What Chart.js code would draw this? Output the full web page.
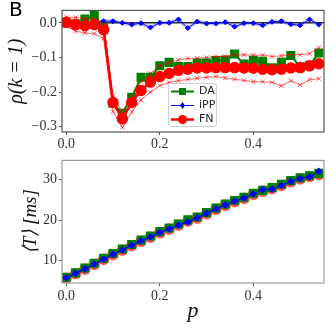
<!DOCTYPE html>
<html>
<head>
<meta charset="utf-8">
<script src="https://cdn.jsdelivr.net/npm/chart.js@4"></script>
<style>
body { margin: 0; background: #fff; }
#wrap { position: relative; width: 332px; height: 332px; }
#topChart { position: absolute; left: 0; top: 0; }
#botChart { position: absolute; left: 0; top: 150px; }
#panel { position: absolute; left: 9px; top: -3px; font: 20px "DejaVu Sans"; color: #000; }
#legend { position: absolute; left: 168px; top: 83px; width: 47px; height: 42px;
  border: 1px solid #d0d0d0; border-radius: 3px; background: rgba(255,255,255,0.85);
  font: 11px "DejaVu Sans"; color: #222; }
#legend div { height: 14px; line-height: 14px; display: flex; align-items: center; }
#legend svg { margin: 0 5px 0 2px; }
</style>
</head>
<body>
<div id="wrap">
  <canvas id="topChart" width="332" height="150"></canvas>
  <canvas id="botChart" width="332" height="182"></canvas>
  <div id="panel">B</div>
  <div id="legend"></div>
</div>
<script>
// p values
const pVals = [0, 0.02, 0.04, 0.06, 0.08, 0.10, 0.12, 0.14, 0.16, 0.18, 0.20, 0.22, 0.24, 0.26,
  0.28, 0.30, 0.32, 0.34, 0.36, 0.38, 0.40, 0.42, 0.44, 0.46, 0.48, 0.50, 0.52, 0.54];

// top: rho(k=1)
const rhoDA = [0.0, -0.003, 0.011, 0.021, -0.012, -0.232, -0.261, -0.215, -0.157, -0.157, -0.124, -0.114, -0.126, -0.126,
  -0.116, -0.116, -0.109, -0.107, -0.090, -0.119, -0.108, -0.111, -0.130, -0.114, -0.094, -0.127, -0.123, -0.087];
const rhoIPP = [0.0, 0.0, 0.0, 0.001, 0.005, 0.005, 0.0, -0.005, -0.001, -0.013, 0.0, 0.0, 0.010, -0.015,
  0.004, -0.002, -0.002, 0.002, -0.011, -0.001, -0.001, -0.007, 0.003, 0.005, -0.004, -0.007, 0.010, -0.005];
const rhoFN = [0.002, -0.005, -0.008, -0.005, -0.020, -0.230, -0.277, -0.230, -0.195, -0.171, -0.155, -0.146, -0.137, -0.134,
  -0.130, -0.130, -0.129, -0.129, -0.129, -0.130, -0.131, -0.134, -0.135, -0.134, -0.130, -0.129, -0.124, -0.118];
const rhoFNhi = [0.016, 0.016, 0.011, 0.011, -0.003, -0.210, -0.258, -0.212, -0.170, -0.146, -0.124, -0.114, -0.107, -0.103,
  -0.102, -0.100, -0.097, -0.097, -0.093, -0.092, -0.093, -0.093, -0.097, -0.095, -0.092, -0.092, -0.089, -0.072];
const rhoFNlo = [-0.010, -0.024, -0.029, -0.031, -0.045, -0.256, -0.302, -0.257, -0.222, -0.200, -0.181, -0.172, -0.167, -0.163,
  -0.160, -0.157, -0.155, -0.159, -0.163, -0.166, -0.170, -0.170, -0.172, -0.182, -0.167, -0.179, -0.164, -0.161];

// bottom: <T> [ms]
const tDA = [5.9, 7.0, 8.2, 9.4, 10.6, 11.8, 12.9, 14.0, 15.1, 16.1, 17.2, 18.1, 19.1, 20.1,
  20.8, 21.9, 23.0, 24.0, 24.9, 25.7, 26.7, 27.4, 28.1, 28.9, 29.8, 30.5, 31.0, 31.6];
const tIPP = [5.8, 6.9, 8.0, 9.2, 10.4, 11.6, 12.7, 13.8, 14.9, 15.9, 17.0, 17.9, 18.8, 19.6,
  20.6, 21.7, 22.8, 23.8, 24.7, 25.5, 26.5, 27.6, 27.7, 28.6, 29.6, 30.3, 30.7, 32.1];
const tFN = [5.7, 6.8, 7.9, 9.1, 10.3, 11.5, 12.6, 13.7, 14.8, 15.8, 16.9, 17.8, 18.8, 19.8,
  20.5, 21.6, 22.7, 23.7, 24.6, 25.4, 26.4, 27.2, 27.8, 28.6, 29.5, 30.2, 30.8, 31.3];

// ticks
const xTicks = [0, 0.2, 0.4];
const rhoTicks = [0, -0.1, -0.2, -0.3];
const tTicks = [10, 20, 30];

const legendNames = ['DA', 'iPP', 'FN'];
const legendColors = ['#008000', '#0000ff', '#ff0000'];

const GREEN = '#008000', BLUE = '#0000ff', RED = '#ff0000';
const tickFont = { family: 'Liberation Serif', size: 14 };

function pts(ys) { return pVals.map((p, i) => ({ x: p, y: ys[i] })); }
function fmt(v) { return (v < 0 ? '\u2212' : '') + Math.abs(v).toFixed(1); }
function fmtInt(v) { return String(v); }

const framePlugin = {
  id: 'frame',
  afterDraw(chart, args, opts) {
    const a = chart.chartArea, ctx = chart.ctx;
    ctx.save();
    ctx.strokeStyle = opts.color || '#555';
    ctx.lineWidth = 1.2;
    ctx.strokeRect(a.left, a.top, a.right - a.left, a.bottom - a.top);
    ctx.restore();
  }
};

const zeroLine = {
  id: 'zeroLine',
  beforeDatasetsDraw(chart) {
    const a = chart.chartArea, ctx = chart.ctx;
    const y = chart.scales.y.getPixelForValue(0);
    ctx.save();
    ctx.strokeStyle = '#222';
    ctx.lineWidth = 1.5;
    ctx.beginPath();
    ctx.moveTo(a.left, y);
    ctx.lineTo(a.right, y);
    ctx.stroke();
    ctx.restore();
  }
};

function xScale(height, withTitle, pad) {
  return {
    type: 'linear', min: -0.009, max: 0.551,
    afterBuildTicks: s => { s.ticks = xTicks.map(v => ({ value: v })); },
    afterFit: s => { s.height = height; },
    grid: { drawOnChartArea: false, tickLength: 3, color: '#555' },
    border: { display: false },
    ticks: { font: tickFont, color: '#333', padding: pad, maxRotation: 0, callback: v => v.toFixed(1) },
    title: {
      display: withTitle, text: 'p', color: '#111',
      font: { family: 'Liberation Serif', size: 22, style: 'italic' },
      padding: { top: 0, bottom: 8 }
    }
  };
}

function yScale(min, max, ticks, cb, title, titleSize, titlePad) {
  return {
    min: min, max: max,
    afterBuildTicks: s => { s.ticks = ticks.map(v => ({ value: v })); },
    afterFit: s => { s.width = 62; },
    grid: { drawOnChartArea: false, tickLength: 3, color: '#555' },
    border: { display: false },
    ticks: { font: tickFont, color: '#333', padding: 2, callback: cb },
    title: {
      display: true, text: title, color: '#111',
      font: { family: 'Liberation Serif', size: titleSize, style: 'italic' },
      padding: { top: titlePad, bottom: 0 }
    }
  };
}

new Chart(document.getElementById('topChart'), {
  type: 'line',
  data: {
    datasets: [
      { data: pts(rhoFNhi), borderColor: 'rgba(255,0,0,0.6)', borderWidth: 1, pointStyle: 'crossRot',
        pointRadius: 3, pointBorderColor: 'rgba(255,0,0,0.7)', pointBorderWidth: 1 },
      { data: pts(rhoFNlo), borderColor: 'rgba(255,0,0,0.6)', borderWidth: 1, pointStyle: 'crossRot',
        pointRadius: 3, pointBorderColor: 'rgba(255,0,0,0.7)', pointBorderWidth: 1 },
      { label: 'FN', data: pts(rhoFN), borderColor: RED, borderWidth: 2.5, pointStyle: 'circle',
        pointRadius: 4.5, pointBackgroundColor: RED, pointBorderColor: RED },
      { label: 'iPP', data: pts(rhoIPP), borderColor: BLUE, borderWidth: 1, pointStyle: 'rectRot',
        pointRadius: 2.5, pointBackgroundColor: BLUE, pointBorderColor: BLUE },
      { data: pts(rhoIPP), borderColor: 'rgba(90,90,230,0.3)', borderWidth: 4, pointRadius: 0 },
      { label: 'DA', data: pts(rhoDA), borderColor: GREEN, borderWidth: 2, pointStyle: 'rect',
        pointRadius: 5, pointBackgroundColor: GREEN, pointBorderColor: GREEN }
    ]
  },
  options: {
    responsive: false, animation: false,
    layout: { padding: { top: 8, right: 8, left: 0, bottom: 0 } },
    plugins: { legend: { display: false }, tooltip: { enabled: false }, frame: { color: '#555' } },
    scales: {
      x: xScale(18, false, 1),
      y: yScale(-0.315, 0.036, rhoTicks, fmt, '\u03c1(k = 1)', 20, 5)
    }
  },
  plugins: [framePlugin, zeroLine]
});

new Chart(document.getElementById('botChart'), {
  type: 'line',
  data: {
    datasets: [
      { label: 'iPP', data: pts(tIPP), borderColor: BLUE, borderWidth: 1.2, pointStyle: 'rectRot',
        pointRadius: 3, pointBackgroundColor: BLUE, pointBorderColor: BLUE },
      { label: 'DA', data: pts(tDA), borderColor: GREEN, borderWidth: 2, pointStyle: 'rect',
        pointRadius: 5, pointBackgroundColor: GREEN, pointBorderColor: GREEN },
      { label: 'FN', data: pts(tFN), borderColor: RED, borderWidth: 2.5, pointStyle: 'circle',
        pointRadius: 4.5, pointBackgroundColor: 'rgba(255,60,60,0.8)', pointBorderColor: 'rgba(255,60,60,0.8)' }
    ]
  },
  options: {
    responsive: false, animation: false,
    layout: { padding: { top: 5, right: 8, left: 0, bottom: 0 } },
    plugins: { legend: { display: false }, tooltip: { enabled: false }, frame: { color: '#999' } },
    scales: {
      x: xScale(49, true, 2),
      y: yScale(4.5, 34.8, tTicks, fmtInt, '\u27e8T\u27e9 [ms]', 19, 20)
    }
  },
  plugins: [framePlugin]
});

// legend box inside the top panel
const marks = {
  DA: '<rect x="8" y="2" width="7" height="7" fill="#008000"/>',
  iPP: '<polygon points="11.5,2 14,5.5 11.5,9 9,5.5" fill="#0000ff"/>',
  FN: '<circle cx="11.5" cy="5.5" r="4.5" fill="#ff0000"/>'
};
const widths = { DA: 2, iPP: 1, FN: 2.5 };
document.getElementById('legend').innerHTML = legendNames.map((n, i) =>
  '<div><svg width="23" height="11"><line x1="0" y1="5.5" x2="23" y2="5.5" stroke="' + legendColors[i] +
  '" stroke-width="' + widths[n] + '"/>' + marks[n] + '</svg>' + n + '</div>').join('');
</script>
</body>
</html>
